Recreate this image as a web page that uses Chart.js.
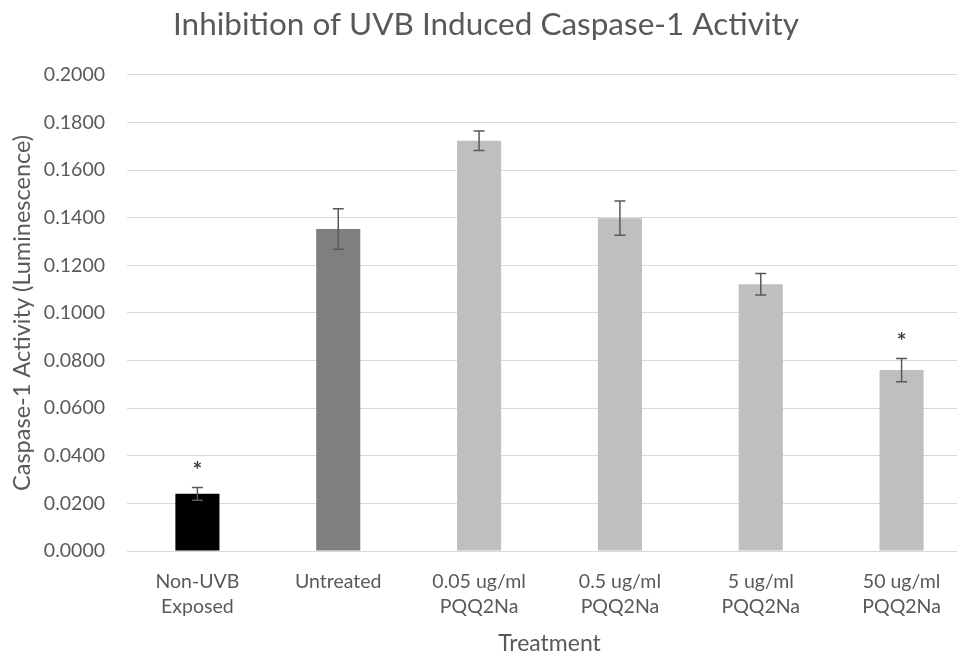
<!DOCTYPE html>
<html>
<head>
<meta charset="utf-8">
<script src="https://cdn.jsdelivr.net/npm/chart.js@4/dist/chart.umd.min.js"></script>
<style>
  html, body { margin: 0; padding: 0; background: #ffffff; overflow: hidden; }
  #wrap { position: absolute; left: 0; top: 0; width: 972px; height: 653px; }
</style>
</head>
<body>
<div id="wrap"><canvas id="c" width="972" height="653"></canvas></div>
<script>
const categories = [["Non-UVB","Exposed"], "Untreated", ["0.05 ug/ml","PQQ2Na"], ["0.5 ug/ml","PQQ2Na"], ["5 ug/ml","PQQ2Na"], ["50 ug/ml","PQQ2Na"]];
const activity = [0.0240, 0.1352, 0.1723, 0.1398, 0.1120, 0.0760];
const errors = [0.0027, 0.0085, 0.0041, 0.0072, 0.0045, 0.0049];
const significant = [true, false, false, false, false, true];
const barColors = ["#000000", "#7f7f7f", "#bfbfbf", "#bfbfbf", "#bfbfbf", "#bfbfbf"];
const yTicks = { min: 0, max: 0.2, step: 0.02 };

const textColor = "#595959";
const fontFamily = "Lato, 'Open Sans', sans-serif";

const errorBarPlugin = {
  id: 'errorBars',
  afterDatasetsDraw(chart) {
    const ctx = chart.ctx;
    const meta = chart.getDatasetMeta(0);
    const y = chart.scales.y;
    ctx.save();
    ctx.strokeStyle = "#595959";
    ctx.lineWidth = 1.5;
    meta.data.forEach((bar, i) => {
      const x = bar.x;
      const top = y.getPixelForValue(activity[i] + errors[i]);
      const bot = y.getPixelForValue(activity[i] - errors[i]);
      ctx.beginPath();
      ctx.moveTo(x, top); ctx.lineTo(x, bot);
      ctx.moveTo(x - 5.5, top); ctx.lineTo(x + 5.5, top);
      ctx.moveTo(x - 5.5, bot); ctx.lineTo(x + 5.5, bot);
      ctx.stroke();
      if (significant[i]) {
        ctx.fillStyle = "#404040";
        ctx.font = "bold 23px " + fontFamily;
        ctx.textAlign = "center";
        ctx.textBaseline = "middle";
        ctx.fillText("*", x, top - 17);
      }
    });
    ctx.restore();
  }
};

new Chart(document.getElementById('c'), {
  type: 'bar',
  data: {
    labels: categories,
    datasets: [{
      data: activity,
      backgroundColor: barColors,
      borderWidth: 0,
      categoryPercentage: 1.0,
      barPercentage: 0.313
    }]
  },
  plugins: [errorBarPlugin],
  options: {
    responsive: false,
    animation: false,
    devicePixelRatio: 1,
    layout: { padding: { left: 0, right: 0, top: 0, bottom: 0 } },
    plugins: {
      legend: { display: false },
      tooltip: { enabled: false },
      title: {
        display: true,
        text: "Inhibition of UVB Induced Caspase-1 Activity",
        color: textColor,
        font: { family: fontFamily, size: 31.5, weight: 'normal', lineHeight: 1.2 },
        padding: { top: 6, bottom: 31 },
        align: 'center',
        fullSize: true
      }
    },
    scales: {
      x: {
        grid: { display: false, drawTicks: false },
        border: { display: true, color: "#d9d9d9", width: 1 },
        ticks: {
          color: textColor,
          font: { family: fontFamily, size: 19.5, lineHeight: 1.25 },
          padding: 19,
          maxRotation: 0,
          autoSkip: false
        },
        title: {
          display: true,
          text: "Treatment",
          color: textColor,
          font: { family: fontFamily, size: 23, lineHeight: 0.85 },
          padding: { top: 12, bottom: 0 }
        },
        afterFit(scale) { scale.height = 102; }
      },
      y: {
        min: yTicks.min,
        max: yTicks.max,
        grid: { color: "#d9d9d9", lineWidth: 1, drawTicks: false },
        border: { display: false },
        ticks: {
          stepSize: yTicks.step,
          color: textColor,
          font: { family: fontFamily, size: 19.5 },
          padding: 22,
          callback: v => Number(v).toFixed(4)
        },
        title: {
          display: true,
          text: "Caspase-1 Activity (Luminescence)",
          color: textColor,
          font: { family: fontFamily, size: 23.5 },
          padding: { top: 8, bottom: 2 }
        },
        afterFit(scale) { scale.width = 127; }
      }
    }
  }
});
</script>
</body>
</html>
